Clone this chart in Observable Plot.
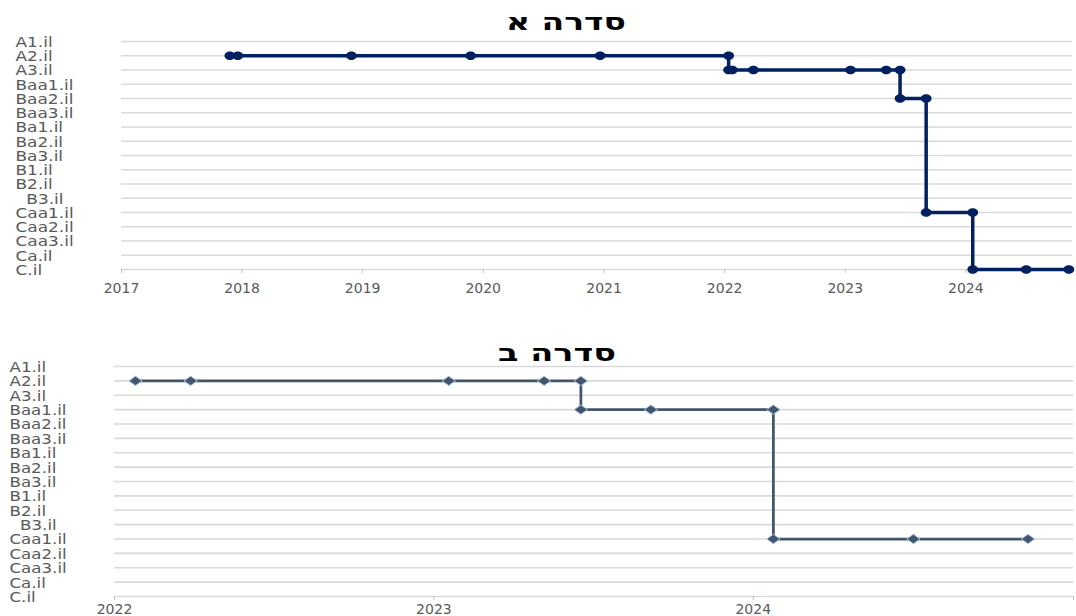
<!DOCTYPE html>
<html>
<head>
<meta charset="utf-8">
<script src="https://cdn.jsdelivr.net/npm/d3@7"></script>
<script src="https://cdn.jsdelivr.net/npm/@observablehq/plot@0.6"></script>
<style>
  html, body { margin: 0; padding: 0; background: #fff; }
  #wrap { width: 1076px; height: 616px; overflow: hidden; }
  svg { display: block; }
</style>
</head>
<body>
<div id="wrap"></div>
<script>
// Rating scale (top to bottom)
const ratings = ["A1.il","A2.il","A3.il","Baa1.il","Baa2.il","Baa3.il","Ba1.il","Ba2.il","Ba3.il","B1.il","B2.il","B3.il","Caa1.il","Caa2.il","Caa3.il","Ca.il","C.il"];
const ratingLabels = ["A1.il","A2.il","A3.il","Baa1.il","Baa2.il","Baa3.il","Ba1.il","Ba2.il","Ba3.il","B1.il","B2.il","\u00a0\u00a0B3.il","Caa1.il","Caa2.il","Caa3.il","Ca.il","C.il"];

// Series A (סדרה א)
const titleA = "סדרה א";
const seriesADates = ["2017-11-25","2017-12-19","2018-11-28","2019-11-24","2020-12-20","2022-01-13","2022-01-13","2022-01-24","2022-03-29","2023-01-17","2023-05-05","2023-06-16","2023-06-16","2023-09-03","2023-09-03","2024-01-22","2024-01-22","2024-07-02","2024-11-08"];
const seriesARatings = ["A2.il","A2.il","A2.il","A2.il","A2.il","A2.il","A3.il","A3.il","A3.il","A3.il","A3.il","A3.il","Baa2.il","Baa2.il","Caa1.il","Caa1.il","C.il","C.il","C.il"];
const domainA = ["2017-01-01","2024-11-19"];
const ticksA = ["2017-01-01","2018-01-01","2019-01-01","2020-01-01","2021-01-01","2022-01-01","2023-01-01","2024-01-01"];

// Series B (סדרה ב)
const titleB = "סדרה ב";
const seriesBDates = ["2022-01-25","2022-03-29","2023-01-18","2023-05-07","2023-06-18","2023-06-18","2023-09-06","2024-01-24","2024-01-24","2024-07-02","2024-11-10"];
const seriesBRatings = ["A2.il","A2.il","A2.il","A2.il","A2.il","Baa1.il","Baa1.il","Baa1.il","Caa1.il","Caa1.il","Caa1.il"];
const domainB = ["2022-01-01","2025-01-01"];
const ticksB = ["2022-01-01","2023-01-01","2024-01-01","2025-01-01"];

const toRows = (dates, rs) => dates.map((d, i) => ({date: new Date(d), rating: rs[i]}));
const dataA = toRows(seriesADates, seriesARatings);
const dataB = toRows(seriesBDates, seriesBRatings);

// custom marker shapes
const ellipseSym = {draw(ctx, size) {
  const r = Math.sqrt(size / Math.PI), rx = r * 1.15, ry = r * 0.9, k = 0.5523;
  ctx.moveTo(rx, 0);
  ctx.bezierCurveTo(rx, ry * k, rx * k, ry, 0, ry);
  ctx.bezierCurveTo(-rx * k, ry, -rx, ry * k, -rx, 0);
  ctx.bezierCurveTo(-rx, -ry * k, -rx * k, -ry, 0, -ry);
  ctx.bezierCurveTo(rx * k, -ry, rx, -ry * k, rx, 0);
  ctx.closePath();
}};
const diamondSym = {draw(ctx, size) {
  const r = Math.sqrt(size / Math.PI), w = r * 1.2, h = r * 0.85;
  ctx.moveTo(0, -h); ctx.lineTo(w, 0); ctx.lineTo(0, h); ctx.lineTo(-w, 0); ctx.closePath();
}};

const fontFam = "DejaVu Sans, sans-serif";

function makeChart(o) {
  return Plot.plot({
    width: 1076,
    height: o.height,
    marginTop: o.mt, marginBottom: o.mb, marginLeft: o.ml, marginRight: o.mr,
    style: {fontFamily: fontFam, background: "#fff", overflow: "visible"},
    x: {type: "utc", domain: o.domain.map(d => new Date(d))},
    y: {type: "point", domain: ratings, padding: 0, round: false, axis: null},
    marks: [
      Plot.ruleY(ratings, {stroke: "#d9d9d9", strokeWidth: 1.6}),
      Plot.axisX({ticks: o.ticks.map(d => new Date(d)), tickFormat: d => d.getUTCFullYear() <= o.lastLabel ? String(d.getUTCFullYear()) : "",
        tickSize: 4, tickPadding: o.tp, stroke: "#bfbfbf", fill: "#595959", fontSize: 14, fontFamily: fontFam}),
      Plot.text(ratings, {y: d => d, text: (d, i) => ratingLabels[i], frameAnchor: "left", textAnchor: "start", dx: o.ldx, dy: 1,
        fontSize: 14, fill: "#595959", fontFamily: fontFam}),
      Plot.text([o.title], {frameAnchor: "top", lineAnchor: "middle", dx: o.tdx, dy: o.tdy, fontSize: 24, fontWeight: "bold", fill: "#000", fontFamily: fontFam}),
      Plot.line(o.data, {x: "date", y: "rating", stroke: o.color, strokeWidth: o.sw}),
      Plot.dot(o.data, {x: "date", y: "rating", symbol: o.symbol, r: o.r, fill: o.color, stroke: o.dotStroke, strokeWidth: o.dsw})
    ]
  });
}

// widen text horizontally to match the reference's stretched glyphs
function stretchTexts(svg, labelW, titleW) {
  const texts = Array.from(svg.querySelectorAll("text"));
  const yl = texts.filter(t => /\.il$/.test(t.textContent));
  const ref = yl.find(t => t.textContent === "Baa1.il");
  if (ref) {
    const s = labelW / ref.getComputedTextLength();
    yl.forEach(t => t.setAttribute("transform", (t.getAttribute("transform") || "") + ` scale(${s},1)`));
  }
  const tt = texts.find(t => /[\u0590-\u05FF]/.test(t.textContent));
  if (tt) {
    const s = titleW / tt.getComputedTextLength();
    tt.setAttribute("transform", (tt.getAttribute("transform") || "") + ` scale(${s},1)`);
  }
}

const wrap = document.getElementById("wrap");
const svgA = makeChart({height: 300, mt: 41, mb: 31, ml: 121, mr: 4, domain: domainA, ticks: ticksA, lastLabel: 2024, tp: 10,
  ldx: -106, title: titleA, tdx: -31, tdy: -19, data: dataA, color: "#002060", sw: 3.5, symbol: ellipseSym, r: 4.7, dotStroke: "none", dsw: 0});
const svgB = makeChart({height: 316, mt: 66, mb: 20, ml: 114, mr: 3, domain: domainB, ticks: ticksB, lastLabel: 2024, tp: 4,
  ldx: -105, title: titleB, tdx: -37, tdy: -13, data: dataB, color: "#44546a", sw: 2.75, symbol: diamondSym, r: 5.5, dotStroke: "#9dc3e6", dsw: 1});
wrap.appendChild(svgA);
wrap.appendChild(svgB);
stretchTexts(svgA, 58, 120);
stretchTexts(svgB, 57, 118);
</script>
</body>
</html>
